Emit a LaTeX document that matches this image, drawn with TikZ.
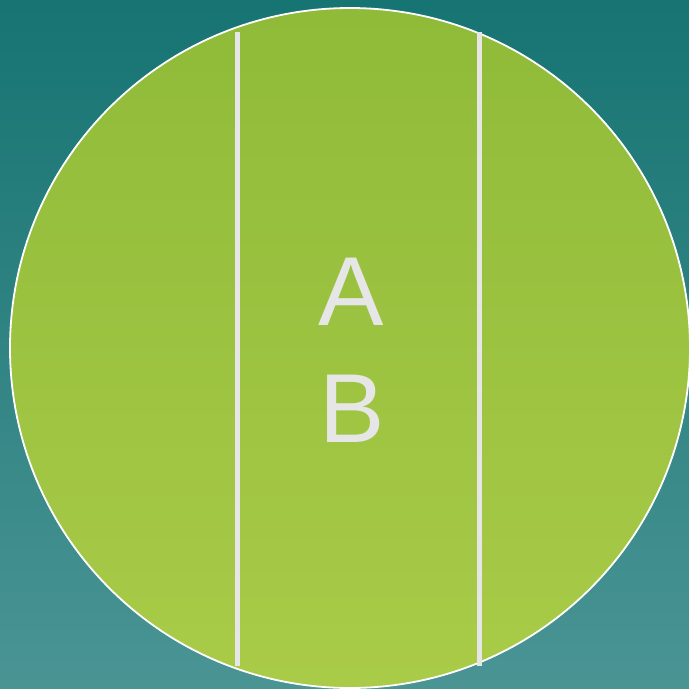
\documentclass[tikz,border=0pt]{standalone}
\usepackage{fontspec}
\setmainfont{Liberation Sans}
\definecolor{bgtop}{HTML}{167472}
\definecolor{bgbot}{HTML}{4A9494}
\definecolor{gtop}{HTML}{8FBB39}
\definecolor{gbot}{HTML}{A9CB48}
\definecolor{linegray}{HTML}{E6E6E6}
\begin{document}
\begin{tikzpicture}[x=1pt,y=-1pt,
  divider/.style={draw=linegray,line width=5pt},
  letter/.style={text=linegray,font=\fontsize{98}{117}\selectfont,inner sep=0pt,anchor=base}]
\fill[top color=bgtop,bottom color=bgbot] (0,0) rectangle (689,689);
\useasboundingbox (0,0) rectangle (689,689);
\node[circle,minimum size=680pt,inner sep=0pt,draw=white,line width=1.8pt,top color=gtop,bottom color=gbot] (disc) at (350,348) {};
\coordinate (l1) at (237,32); \coordinate (l2) at (237,666);
\coordinate (r1) at (479.5,32); \coordinate (r2) at (479.5,666);
\draw[divider] (l1) -- (l2);
\draw[divider] (r1) -- (r2);
\node[letter] (A) at (351,325) {A};
\node[letter] (B) at (352,442) {B};
\end{tikzpicture}
\end{document}
